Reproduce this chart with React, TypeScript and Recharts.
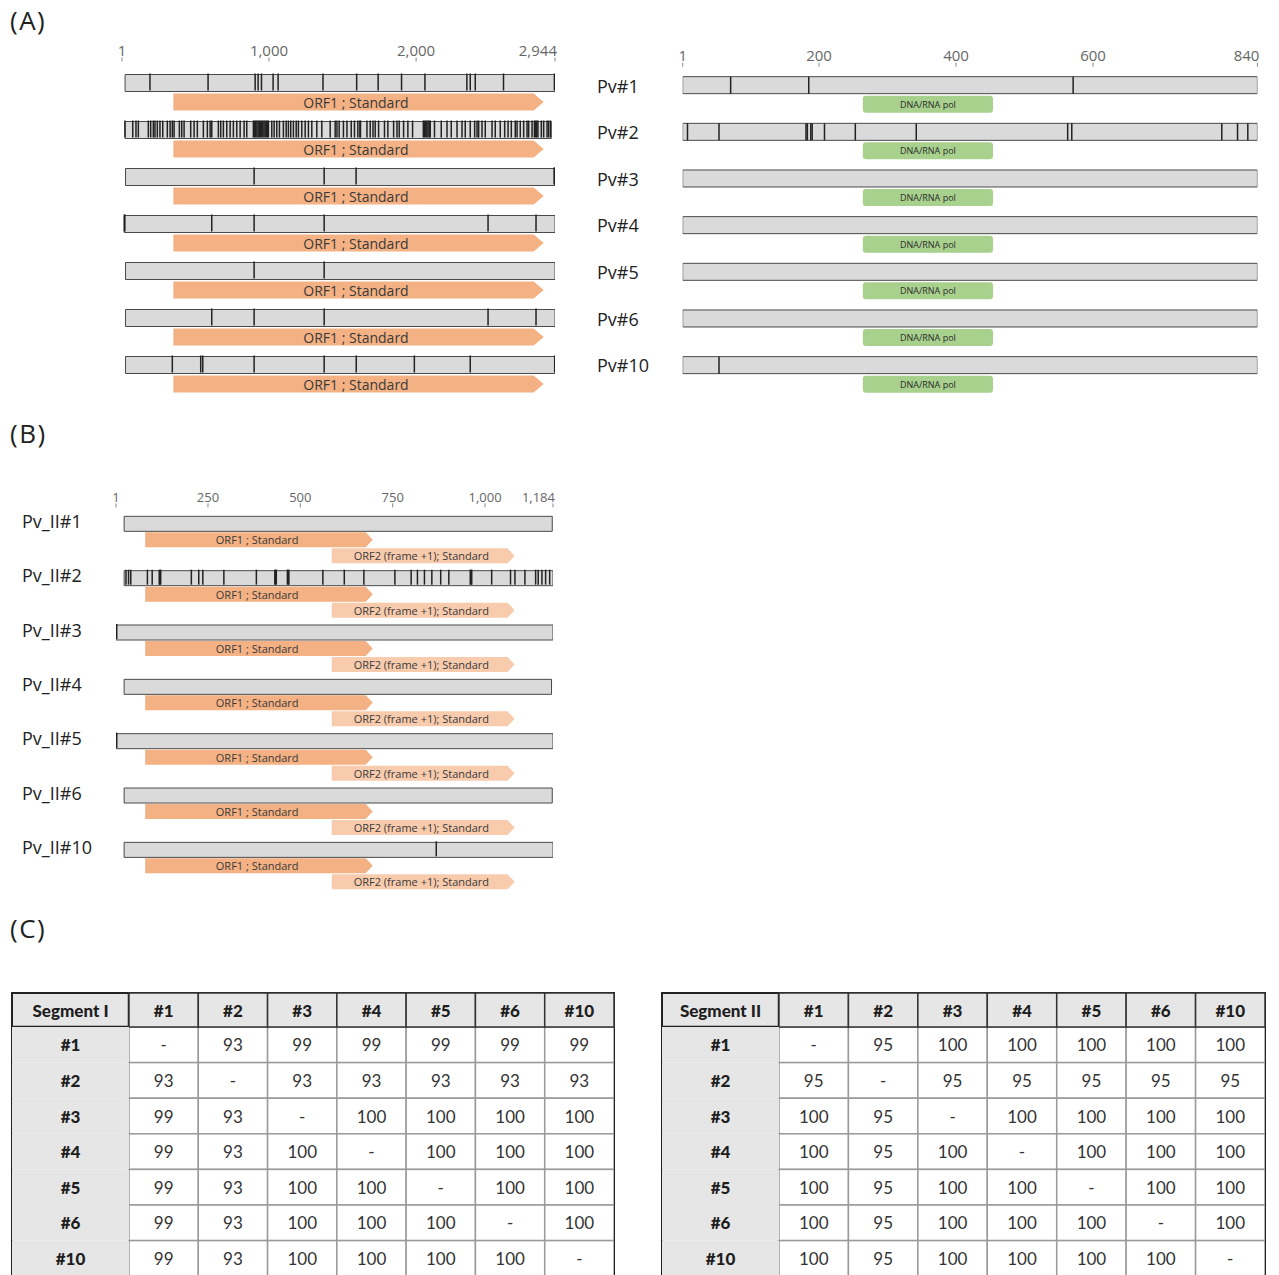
import React from 'react';
import { ComposedChart, Bar, Scatter, ScatterChart, XAxis, YAxis } from 'recharts';

const FONT = '"Open Sans", "Noto Sans", sans-serif';
const TFONT = 'Lato, "Open Sans", sans-serif';

type Span = [number, number];

// ---------- (A) left: segment I nucleotide alignment ----------
const segINames = ['#1', '#2', '#3', '#4', '#5', '#6', '#10'];
const segIStart = [22, 22, 25, 16, 25, 25, 25];
const segIEnd = [2944, 2918, 2944, 2944, 2944, 2944, 2944];
const segIOrf1: Span = [350, 2867];
const segITicks = [1, 1000, 2000, 2944];
const segIVariants: number[][] = [
  [191, 586, 906, 926, 949, 1028, 1062, 1367, 1596, 1742, 1901, 2060, 2345, 2368, 2402, 2594, 2940],
  [21, 74, 96, 112, 180, 196, 214, 225, 241, 259, 278, 309, 328, 343, 355, 391, 407, 423, 468, 491,
    513, 554, 581, 600, 611, 656, 672, 690, 713, 736, 758, 781, 804, 831, 849, 894, 902, 910, 918,
    926, 934, 942, 950, 958, 966, 974, 982, 990, 996, 1019, 1035, 1053, 1071, 1098, 1117, 1132,
    1148, 1166, 1185, 1200, 1223, 1246, 1268, 1291, 1325, 1359, 1416, 1450, 1462, 1477, 1506, 1530,
    1559, 1581, 1604, 1618, 1622, 1666, 1688, 1707, 1722, 1745, 1785, 1808, 1847, 1870, 1885, 1915,
    1944, 1976, 2049, 2057, 2065, 2073, 2081, 2089, 2096, 2125, 2171, 2210, 2239, 2278, 2312, 2334,
    2368, 2398, 2414, 2425, 2448, 2470, 2516, 2538, 2572, 2602, 2625, 2647, 2674, 2686, 2708, 2731,
    2754, 2765, 2788, 2804, 2812, 2820, 2828, 2851, 2867, 2890, 2901, 2914],
  [899, 1375, 1592, 2938, 2942],
  [17, 20, 611, 899, 1375, 2489, 2815],
  [899, 1375],
  [611, 899, 1375, 2489, 2815],
  [343, 536, 550, 899, 1375, 1593, 1988, 2368, 2942],
];

// ---------- (A) right: protein alignment ----------
const pvNames = ['Pv#1', 'Pv#2', 'Pv#3', 'Pv#4', 'Pv#5', 'Pv#6', 'Pv#10'];
const pvStart = [1, 1, 1, 1, 1, 1, 1];
const pvEnd = [840, 840, 840, 840, 840, 840, 840];
const pvDomain: Span = [264, 454];
const pvTicks = [1, 200, 400, 600, 840];
const pvVariants: number[][] = [
  [71, 185, 571],
  [8, 54, 181, 183, 188, 190, 208, 253, 342, 563, 569, 788, 811, 826],
  [],
  [],
  [],
  [],
  [54],
];

// ---------- (B) segment II nucleotide alignment ----------
const pv2Names = ['Pv_II#1', 'Pv_II#2', 'Pv_II#3', 'Pv_II#4', 'Pv_II#5', 'Pv_II#6', 'Pv_II#10'];
const pv2Start = [23, 23, 1, 23, 1, 23, 23];
const pv2End = [1182, 1184, 1184, 1180, 1184, 1182, 1184];
const pv2Orf1: Span = [80, 696];
const pv2Orf2: Span = [585, 1080];
const pv2Ticks = [1, 250, 500, 750, 1000, 1184];
const pv2Variants: number[][] = [
  [],
  [28, 35, 41, 86, 99, 118, 120, 122, 205, 225, 236, 293, 381, 431, 433, 435, 465, 467, 469, 561,
    619, 672, 756, 800, 817, 836, 856, 880, 902, 960, 962, 964, 1018, 1069, 1081, 1108, 1137, 1144,
    1154, 1164, 1175],
  [1, 3],
  [],
  [1, 3],
  [],
  [868],
];

// ---------- (C) pairwise identity (%) ----------
const idLabels = ['#1', '#2', '#3', '#4', '#5', '#6', '#10'];
const segIIdentity: (number | null)[][] = [
  [null, 93, 99, 99, 99, 99, 99],
  [93, null, 93, 93, 93, 93, 93],
  [99, 93, null, 100, 100, 100, 100],
  [99, 93, 100, null, 100, 100, 100],
  [99, 93, 100, 100, null, 100, 100],
  [99, 93, 100, 100, 100, null, 100],
  [99, 93, 100, 100, 100, 100, null],
];
const segIIIdentity: (number | null)[][] = [
  [null, 95, 100, 100, 100, 100, 100],
  [95, null, 95, 95, 95, 95, 95],
  [100, 95, null, 100, 100, 100, 100],
  [100, 95, 100, null, 100, 100, 100],
  [100, 95, 100, 100, null, 100, 100],
  [100, 95, 100, 100, 100, null, 100],
  [100, 95, 100, 100, 100, 100, null],
];

// ---------- shapes ----------
const arrowShape = (label: string, fontSize: number, tip: number) => (p: any) => {
  const { x, y, width, height, fill } = p;
  if (!width || !height) return <g />;
  const pts = `${x},${y} ${x + width - tip},${y} ${x + width},${y + height / 2} ${x + width - tip},${y + height} ${x},${y + height}`;
  return (
    <g>
      <polygon points={pts} fill={fill} />
      <text x={x + (width - tip / 2) / 2} y={y + height / 2} textAnchor="middle" dominantBaseline="central"
        fontSize={fontSize} fill="#3a3a3a" fontFamily={FONT}>{label}</text>
    </g>
  );
};

const domainShape = (p: any) => {
  const { x, y, width, height, fill } = p;
  if (!width || !height) return <g />;
  return (
    <g>
      <rect x={x} y={y} width={width} height={height} rx={3} fill={fill} />
      <text x={x + width / 2} y={y + height / 2} textAnchor="middle" dominantBaseline="central"
        fontSize={9} fill="#2b2b2b" fontFamily={FONT}>DNA/RNA pol</text>
    </g>
  );
};

const variantShape = (top: number, bot: number) => (p: any) => {
  const { cx, cy } = p;
  if (cx == null || cy == null) return <g />;
  return <line x1={cx} x2={cx} y1={cy + top} y2={cy + bot} stroke="#222" strokeWidth={1.5} />;
};

const posTick = (max: number, fs: number, dy: number, m1: number, m2: number) => (p: any) => {
  const { x, y, payload } = p;
  const v = payload.value as number;
  const end = v === max;
  return (
    <g>
      <text x={end ? x + 2 : x} y={y + dy} textAnchor={end ? 'end' : 'middle'} fontSize={fs} fill="#666"
        fontFamily={FONT}>{v.toLocaleString('en-US')}</text>
      <line x1={x} x2={x} y1={y + m1} y2={y + m2} stroke="#888" strokeWidth={1} />
    </g>
  );
};

const nameTick = (dx: number, dy: number, fs: number) => (p: any) => (
  <text x={p.x + dx} y={p.y + dy} dominantBaseline="central" fontSize={fs} fill="#222" fontFamily={FONT}>
    {p.payload.value}
  </text>
);

interface MapProps {
  names: string[]; starts: number[]; ends: number[]; variants: number[][];
  orf1?: Span; orf2?: Span; domain?: Span; max: number; ticks: number[];
  width: number; height: number; margin: { top: number; right: number; bottom: number; left: number };
  yWidth: number; barSize: number; barGap: number;
  tickFont: number; tickDy: number; markTop: number; markBot: number;
  nameFont?: number; nameDx?: number; nameDy?: number;
  orfFont?: number; tip?: number; varTop: number; varBot: number;
}

function GenomeMap(props: MapProps) {
  const { names, starts, ends, variants, orf1, orf2, domain, max, ticks } = props;
  const rows = names.map((n, i) => ({ name: n, genome: [starts[i], ends[i]], orf1, orf2, domain }));
  const points = names.flatMap((n, i) => variants[i].map(pos => ({ name: n, pos })));
  return (
    <ComposedChart layout="vertical" width={props.width} height={props.height} data={rows} margin={props.margin}
      barSize={props.barSize} barGap={props.barGap}>
      <XAxis type="number" orientation="top" domain={[1, max]} ticks={ticks} interval={0} allowDataOverflow
        height={30} axisLine={false} tickLine={false} tickSize={0} tickMargin={0}
        tick={posTick(max, props.tickFont, props.tickDy, props.markTop, props.markBot)} />
      <YAxis type="category" dataKey="name" allowDuplicatedCategory={false} width={props.yWidth}
        hide={!props.nameFont} axisLine={false} tickLine={false} tickSize={0} tickMargin={0} interval={0}
        tick={props.nameFont ? nameTick(props.nameDx || 0, props.nameDy || 0, props.nameFont) : false} />
      <Bar dataKey="genome" fill="#DADADA" stroke="#4a4a4a" strokeWidth={1} isAnimationActive={false} />
      {orf1 && (
        <Bar dataKey="orf1" fill="#F4B183" isAnimationActive={false}
          shape={arrowShape('ORF1 ; Standard', props.orfFont || 14, props.tip || 10)} />
      )}
      {orf2 && (
        <Bar dataKey="orf2" fill="#F8CBAD" isAnimationActive={false}
          shape={arrowShape('ORF2 (frame +1); Standard', props.orfFont || 14, props.tip || 10)} />
      )}
      {domain && <Bar dataKey="domain" fill="#A9D18E" isAnimationActive={false} shape={domainShape} />}
      <Scatter data={points} dataKey="pos" isAnimationActive={false} shape={variantShape(props.varTop, props.varBot)} />
    </ComposedChart>
  );
}

// ---------- identity table ----------
function IdentityTable({ title, values, width, mRight }: { title: string; values: (number | null)[][]; width: number; mRight: number }) {
  const H = 330, mTop = 33, mLeft = 12, mBottom = 13.8, yW = 117, xH = 34;
  const n = idLabels.length;
  const colW = (width - mLeft - yW - mRight) / n;
  const rowH = (H - mTop - xH - mBottom) / n;
  const cells = values.flatMap((row, r) => row.map((v, c) => ({ c, r, v })));
  const idx = idLabels.map((_, i) => i);

  const headTick = (p: any) => (
    <g>
      <rect x={p.x - colW / 2} y={p.y - xH} width={colW} height={xH} fill="#E6E6E6" stroke="#333" strokeWidth={1.5} />
      <text x={p.x} y={p.y - xH / 2} textAnchor="middle" dominantBaseline="central" fontSize={17}
        fontWeight={900} fill="#1e1e1e" fontFamily={TFONT}>{idLabels[p.payload.value]}</text>
    </g>
  );
  const rowTick = (p: any) => (
    <g>
      <rect x={p.x - yW} y={p.y - rowH / 2} width={yW} height={rowH} fill="#E6E6E6" />
      <text x={p.x - yW / 2} y={p.y} textAnchor="middle" dominantBaseline="central" fontSize={17}
        fontWeight={900} fill="#1e1e1e" fontFamily={TFONT}>{idLabels[p.payload.value]}</text>
    </g>
  );
  const cellShape = (p: any) => {
    const { cx, cy, payload } = p;
    return (
      <g>
        <rect x={cx - colW / 2} y={cy - rowH / 2} width={colW} height={rowH} fill="#fff" stroke="#9a9a9a" strokeWidth={1.5} />
        <text x={cx} y={cy} textAnchor="middle" dominantBaseline="central" fontSize={17} fill="#333"
          fontFamily={TFONT}>{payload.v == null ? '-' : String(payload.v)}</text>
      </g>
    );
  };
  const frame = () => {
    const x0 = mLeft, y0 = mTop, fw = yW + n * colW, fh = xH + n * rowH;
    return (
      <g>
        <rect x={x0} y={y0} width={yW} height={xH} fill="#E6E6E6" />
        <text x={x0 + yW / 2} y={y0 + xH / 2} textAnchor="middle" dominantBaseline="central" fontSize={17}
          fontWeight={900} fill="#1e1e1e" fontFamily={TFONT}>{title}</text>
        <rect x={x0} y={y0} width={fw} height={fh} fill="none" stroke="#222" strokeWidth={2} />
        <line x1={x0} x2={x0 + fw} y1={y0 + xH} y2={y0 + xH} stroke="#222" strokeWidth={2.5} />
        <line x1={x0 + yW} x2={x0 + yW} y1={y0} y2={y0 + fh} stroke="#222" strokeWidth={2.5} />
      </g>
    );
  };

  return (
    <ScatterChart width={width} height={H} margin={{ top: mTop, right: mRight, bottom: mBottom, left: mLeft }}>
      <XAxis type="number" dataKey="c" orientation="top" domain={[-0.5, n - 0.5]} ticks={idx} interval={0}
        allowDataOverflow height={xH} axisLine={false} tickLine={false} tickSize={0} tickMargin={0} tick={headTick} />
      <YAxis type="number" dataKey="r" reversed domain={[-0.5, n - 0.5]} ticks={idx} interval={0}
        allowDataOverflow width={yW} axisLine={false} tickLine={false} tickSize={0} tickMargin={0} tick={rowTick}
        label={{ content: frame }} />
      <Scatter data={cells} isAnimationActive={false} shape={cellShape} />
    </ScatterChart>
  );
}

const panelLabel = (txt: string, top: number) => (
  <div style={{ position: 'absolute', left: 10, top, fontSize: 26, lineHeight: '30px', letterSpacing: 1.5,
    fontFamily: FONT, color: '#222' }}>{txt}</div>
);

export default function App() {
  return (
    <div style={{ position: 'relative', width: 1279, height: 1275, overflow: 'hidden', background: '#fff' }}>
      <style>{'body{margin:0;}'}</style>
      {panelLabel('(A)', 5)}
      {panelLabel('(B)', 418)}
      {panelLabel('(C)', 913)}

      <div style={{ position: 'absolute', left: 0, top: 0 }}>
        <GenomeMap names={segINames} starts={segIStart} ends={segIEnd} variants={segIVariants} orf1={segIOrf1}
          max={2944} ticks={segITicks} width={570} height={405}
          margin={{ top: 38.5, right: 15, bottom: 7.5, left: 122 }} yWidth={0} barSize={17} barGap={2}
          tickFont={15} tickDy={-12.5} markTop={-11} markBot={-7} orfFont={14} tip={10} varTop={-18.5} varBot={-1.5} />
      </div>

      <div style={{ position: 'absolute', left: 590, top: 0 }}>
        <GenomeMap names={pvNames} starts={pvStart} ends={pvEnd} variants={pvVariants} domain={pvDomain}
          max={840} ticks={pvTicks} width={680} height={405}
          margin={{ top: 41.67, right: 12.6, bottom: 6.7, left: 0 }} yWidth={92.7} barSize={17} barGap={2}
          tickFont={15} tickDy={-10.5} markTop={-9} markBot={-5}
          nameFont={18} nameDx={-85.7} nameDy={-9.5} varTop={-18.3} varBot={-1.3} />
      </div>

      <div style={{ position: 'absolute', left: 0, top: 460 }}>
        <GenomeMap names={pv2Names} starts={pv2Start} ends={pv2End} variants={pv2Variants} orf1={pv2Orf1} orf2={pv2Orf2}
          max={1184} ticks={pv2Ticks} width={570} height={440}
          margin={{ top: 22.33, right: 17, bottom: 7.3, left: 0 }} yWidth={116} barSize={15} barGap={1}
          tickFont={13} tickDy={-10.5} markTop={-9} markBot={-5}
          nameFont={18} nameDx={-94} nameDy={-18.5} orfFont={11} tip={7} varTop={-24.2} varBot={-9.2} />
      </div>

      <div style={{ position: 'absolute', left: 0, top: 960 }}>
        <IdentityTable title="Segment I" values={segIIdentity} width={630} mRight={16} />
      </div>
      <div style={{ position: 'absolute', left: 650, top: 960 }}>
        <IdentityTable title="Segment II" values={segIIIdentity} width={630} mRight={15} />
      </div>
    </div>
  );
}
